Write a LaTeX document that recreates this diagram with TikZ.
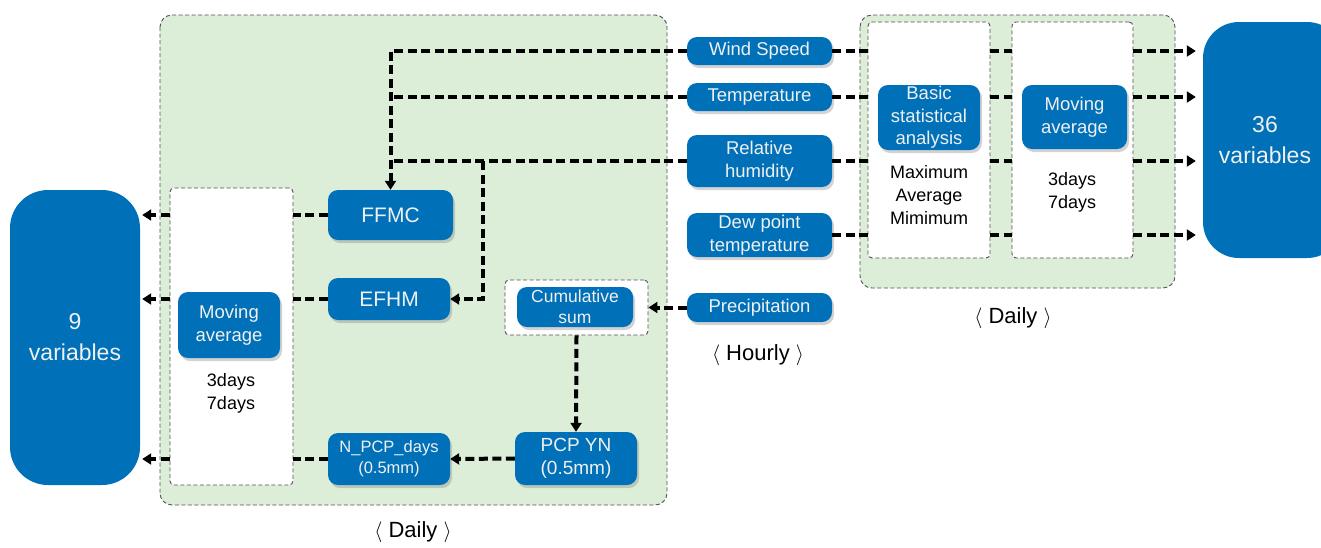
\documentclass[tikz,border=0pt]{standalone}
\usepackage{fontspec}
\setmainfont{Liberation Sans}
\usetikzlibrary{arrows.meta,shadows,calc}
\definecolor{nodeblue}{HTML}{0070B8}
\definecolor{boxgreen}{HTML}{DCEED8}
\definecolor{bordergray}{HTML}{505050}
\definecolor{nodetext}{HTML}{F0F0F0}
\tikzset{
  bn/.style={fill=nodeblue, text=nodetext, rounded corners=10pt, align=center, inner sep=0pt,
    font=\fontsize{18.5}{22.5}\selectfont,
    drop shadow={opacity=0.35, shadow xshift=2pt, shadow yshift=-3pt}},
  bignode/.style={fill=nodeblue, text=nodetext, rounded corners=38pt, align=center, inner sep=0pt,
    font=\fontsize{23}{31}\selectfont},
  greenbox/.style={fill=boxgreen, draw=bordergray, line width=0.9pt, dash pattern=on 4pt off 2.5pt, rounded corners=12pt},
  whitebox/.style={fill=white, draw=bordergray, line width=0.9pt, dash pattern=on 4pt off 2.5pt, rounded corners=4pt},
  dl/.style={line width=4pt, dash pattern=on 9pt off 4.5pt, black},
  dla/.style={dl, -{Triangle[length=9pt,width=11pt]}},
  plain/.style={align=center, font=\fontsize{18}{23}\selectfont},
  captext/.style={font=\fontsize{22}{24}\selectfont}
}
\begin{document}
\begin{tikzpicture}[x=1pt,y=-1pt]
\useasboundingbox (0,0) rectangle (1321,547);

% green containers
\draw[greenbox] (160,15) rectangle (667,505);
\draw[greenbox] (860,15) rectangle (1175,288);

% white containers
\node[whitebox, minimum width=123pt, minimum height=297pt] (wma) at (231.5,336.5) {};
\node[whitebox, minimum width=122pt, minimum height=236pt] (wb1) at (929,140) {};
\node[whitebox, minimum width=121pt, minimum height=236pt] (wb2) at (1072.5,140) {};
\node[whitebox, minimum width=143pt, minimum height=55pt] (wcum) at (576.5,307.5) {};

% big output nodes
\node[bignode, minimum width=130pt, minimum height=295pt] (nine) at (75,337.5) {9\\variables};
\node[bignode, minimum width=140pt, minimum height=236pt, rounded corners=36pt] (v36) at (1273,140) {\hspace*{-16pt}36\\\hspace*{-16pt}variables};

% left blue nodes
\node[bn, minimum width=102pt, minimum height=66pt] (ma1) at (229,325) {Moving\\average};
\node[plain] (ma1t) at (231,393) {3days\\7days};
\node[bn, minimum width=125pt, minimum height=50pt, font=\fontsize{21}{24}\selectfont] (ffmc) at (390.5,215) {FFMC};
\node[bn, minimum width=122pt, minimum height=42pt, font=\fontsize{21}{24}\selectfont] (efhm) at (389,299) {EFHM};
\node[bn, minimum width=122pt, minimum height=52pt, font=\fontsize{16.5}{21}\selectfont] (npcp) at (389,459) {N\_PCP\_days\\(0.5mm)};
\node[bn, minimum width=116pt, minimum height=40pt, font=\fontsize{17.5}{21}\selectfont] (cum) at (575,307) {Cumulative\\sum};
\node[bn, minimum width=122pt, minimum height=53pt, font=\fontsize{19}{23}\selectfont] (pcp) at (576,458.5) {PCP YN\\(0.5mm)};

% input nodes
\node[bn, minimum width=145pt, minimum height=28pt] (ws) at (759.5,51) {Wind Speed};
\node[bn, minimum width=145pt, minimum height=28pt] (temp) at (759.5,97) {Temperature};
\node[bn, minimum width=145pt, minimum height=52pt] (rh) at (759.5,161) {Relative\\humidity};
\node[bn, minimum width=145pt, minimum height=44pt] (dew) at (759.5,235) {Dew point\\temperature};
\node[bn, minimum width=145pt, minimum height=29pt] (prec) at (759.5,307.5) {Precipitation};

% right blue nodes
\node[bn, minimum width=102pt, minimum height=65pt] (bsa) at (929,117.5) {Basic\\statistical\\analysis};
\node[plain] (bsat) at (929,195) {Maximum\\Average\\Mimimum};
\node[bn, minimum width=105pt, minimum height=64pt] (ma2) at (1074.5,117) {Moving\\average};
\node[plain] (ma2t) at (1072,192) {3days\\7days};

% captions
\node[captext] (hourly) at (758,355) {$\langle$ Hourly $\rangle$};
\node[captext] (daily1) at (1013,318) {$\langle$ Daily $\rangle$};
\node[captext] (daily2) at (413,532) {$\langle$ Daily $\rangle$};

% connectors: inputs to FFMC / EFHM
\draw[dla] (ws.west) -| (ffmc.north);
\draw[dl] (temp.west) -- (temp.west -| ffmc.north);
\draw[dl] (rh.west) -- (rh.west -| ffmc.north);
\coordinate (br) at (483,161);
\draw[dla] (br) |- (efhm.east);

% inputs to right side
\foreach \n in {ws,temp,rh,dew}{
  \draw[dl] (\n.east) -- (\n.east -| wb1.west);
  \draw[dl] (\n.east -| wb1.east) -- (\n.east -| wb2.west);
  \draw[dla, shorten >=7pt] (\n.east -| wb2.east) -- (\n.east -| v36.west);
}

% precipitation chain
\draw[dla] (prec.west) -- (wcum.east);
\draw[dla] (wcum.south) -- (pcp.north);
\draw[dla] (pcp.west) -- (npcp.east);

% left outputs
\foreach \n in {ffmc,efhm,npcp}{
  \draw[dl] (\n.west) -- (\n.west -| wma.east);
  \draw[dla, shorten >=2pt] (\n.west -| wma.west) -- (\n.west -| nine.east);
}
\end{tikzpicture}
\end{document}
